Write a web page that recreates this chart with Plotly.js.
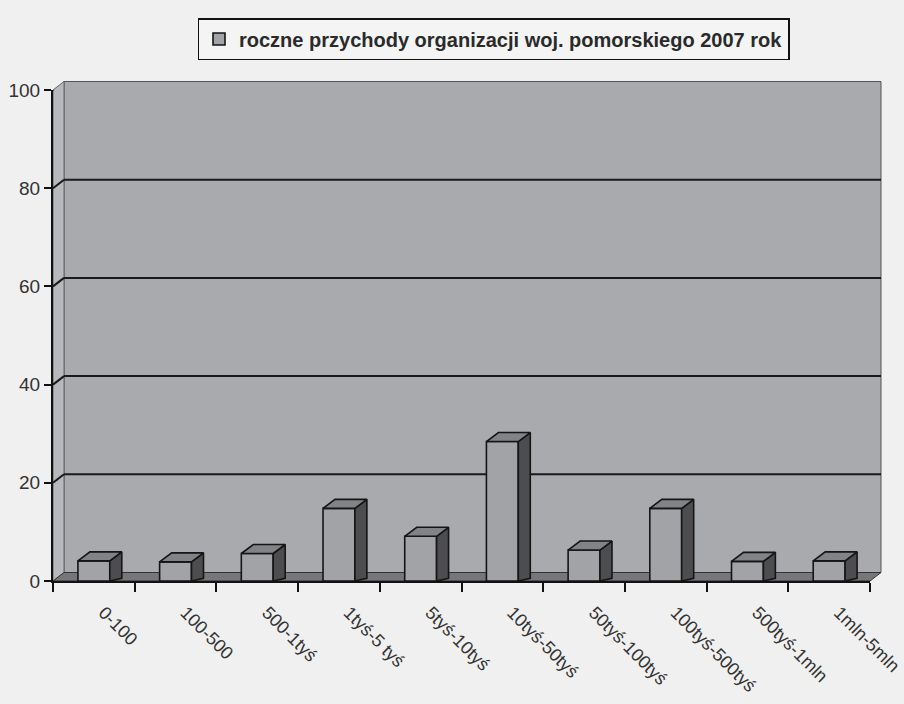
<!DOCTYPE html>
<html><head><meta charset="utf-8">
<script src="https://cdn.plot.ly/plotly-3.0.1.min.js"></script>
<style>html,body{margin:0;padding:0;background:#f0f0f0;}#chart{width:904px;height:704px;}</style>
</head><body><div id="chart"></div>
<script>
const categories = ['0-100','100-500','500-1tyś','1tyś-5 tyś','5tyś-10tyś','10tyś-50tyś','50tyś-100tyś','100tyś-500tyś','500tyś-1mln','1mln-5mln'];
const values = [4.1, 3.9, 5.6, 14.8, 9.1, 28.4, 6.3, 14.8, 4.0, 4.1];
const seriesName = 'roczne przychody organizacji woj. pomorskiego 2007 rok';
const yTicks = [0, 20, 40, 60, 80, 100];

const W = 904, H = 704, ML = 53, MR = 34, MT = 90, MB = 123;
const pw = W - ML - MR, ph = H - MT - MB;
const xs = categories.map((c, i) => i);
const barW = 0.39;
const pxPerCat = pw / categories.length, pxPerUnit = ph / 100;
const bdx = 12 / pxPerCat, bdy = 9 / pxPerUnit;   // bar depth in data units
const wdxp = 11 / pw, wdyp = 8.5 / ph;            // wall depth in paper units
const labelShift = 10 / pxPerCat;                 // rotated labels start slightly right of centre

const traces = [];
traces.push({type: 'bar', x: xs, y: values, width: barW, name: seriesName,
  marker: {color: '#a2a3a6', line: {color: '#151515', width: 1.6}}, hoverinfo: 'skip'});
values.forEach((v, i) => {
  const l = i - barW / 2, r = i + barW / 2;
  traces.push({type: 'scatter', mode: 'lines', fill: 'toself', fillcolor: '#4d4d4f', showlegend: false, hoverinfo: 'skip',
    line: {color: '#151515', width: 1.6},
    x: [r, r + bdx, r + bdx, r, r], y: [0, bdy * 0.3, v + bdy, v, 0]});
  traces.push({type: 'scatter', mode: 'lines', fill: 'toself', fillcolor: '#828386', showlegend: false, hoverinfo: 'skip',
    line: {color: '#151515', width: 1.6},
    x: [l, r, r + bdx, l + bdx, l], y: [v, v, v + bdy, v + bdy, v]});
});

const shapes = [];
shapes.push({type: 'rect', xref: 'paper', yref: 'paper', layer: 'below',
  x0: wdxp, x1: 1 + wdxp, y0: wdyp, y1: 1 + wdyp, fillcolor: '#a9aaae', line: {color: '#555', width: 1}});
shapes.push({type: 'path', xref: 'paper', yref: 'paper', layer: 'below',
  path: `M 0 0 L ${wdxp} ${wdyp} L ${wdxp} ${1 + wdyp} L 0 1 Z`, fillcolor: '#b8b9bc', line: {color: '#666', width: 1}});
shapes.push({type: 'path', xref: 'paper', yref: 'paper', layer: 'below',
  path: `M 0 0 L 1 0 L ${1 + wdxp} ${wdyp} L ${wdxp} ${wdyp} Z`, fillcolor: '#76777a', line: {color: '#333', width: 1}});
yTicks.filter(t => t > 0).forEach(t => {
  shapes.push({type: 'line', xref: 'paper', yref: 'y', ysizemode: 'pixel', yanchor: t, layer: 'below',
    x0: wdxp, x1: 1 + wdxp, y0: 8.5, y1: 8.5, line: {color: '#1a1a1a', width: 2}});
  shapes.push({type: 'line', xref: 'paper', yref: 'y', ysizemode: 'pixel', yanchor: t, layer: 'below',
    x0: 0, x1: wdxp, y0: 0, y1: 8.5, line: {color: '#1a1a1a', width: 2}});
});

const layout = {
  width: W, height: H, margin: {l: ML, r: MR, t: MT, b: MB, pad: 0},
  paper_bgcolor: '#f0f0f0', plot_bgcolor: 'rgba(0,0,0,0)',
  font: {family: 'Liberation Sans, Arial, sans-serif', color: '#333'},
  showlegend: true,
  legend: {x: (493.5 - ML) / pw, xanchor: 'center', y: (H - MB - 18) / ph, yanchor: 'top',
    bgcolor: '#f4f4f4', bordercolor: '#111', borderwidth: 1.5, itemwidth: 30,
    font: {size: 20, color: '#2a2a2a', weight: 'bold'}},
  xaxis: {range: [-0.5, 9.5], tickvals: xs.map(i => i + labelShift), ticktext: categories, tickangle: 45,
    tickfont: {size: 18, color: '#333'}, ticks: '', showgrid: false, zeroline: false, ticklabeloverflow: 'allow',
    showline: true, linecolor: '#111', linewidth: 2, ticklabelstandoff: 12,
    minor: {tickmode: 'array', tickvals: xs.map(i => i - 0.5).concat([9.5]), ticks: 'outside', ticklen: 9, tickwidth: 2, tickcolor: '#111', showgrid: false}},
  yaxis: {range: [0, 100], tickvals: yTicks, ticks: 'outside', ticklen: 7, tickwidth: 2, tickcolor: '#111',
    showgrid: false, zeroline: false, showline: true, linecolor: '#111', linewidth: 2,
    tickfont: {size: 19, color: '#333'}},
  shapes: shapes, bargap: 0
};
Plotly.newPlot('chart', traces, layout, {displayModeBar: false, staticPlot: true});
</script></body></html>
